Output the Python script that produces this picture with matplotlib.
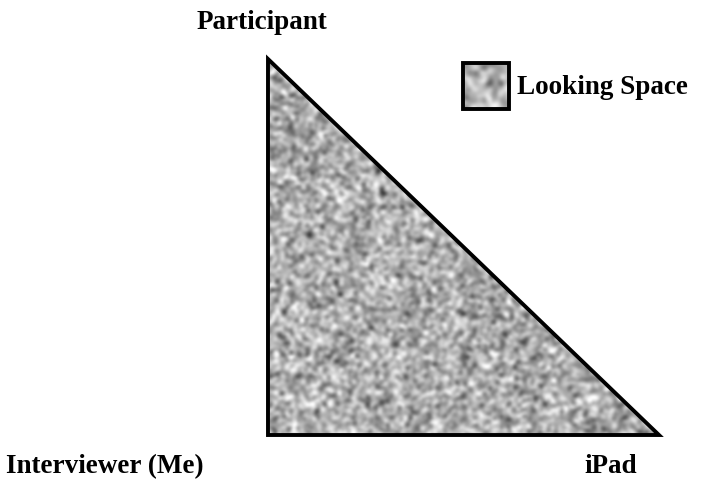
# plot.py
"""
Looking-space diagram: participant, interviewer and iPad at the corners of a
right triangle, the area between them filled with a granite texture.
"""

import numpy as np
import matplotlib.pyplot as plt
from matplotlib.patches import Polygon, Rectangle

# corners of the triangle in diagram units (x to the right, y upwards)
corner_names = ["Participant", "Interviewer (Me)", "iPad"]
corner_x = [0.0, 0.0, 1.0]
corner_y = [1.0, 0.0, 0.0]
legend_label = "Looking Space"

plt.rcParams['font.family'] = ['Liberation Serif', 'DejaVu Serif']

fig = plt.figure(figsize=(7.07, 4.85), dpi=100)
ax = fig.add_axes([0, 0, 1, 1])
ax.set_xlim(-0.6854, 1.1228)
ax.set_ylim(-0.1303, 1.1596)
ax.axis('off')

# granite-like texture (fill style only)
rng = np.random.default_rng(7)


def granite(shape):
    tex = rng.normal(0.0, 1.0, shape)
    # light smoothing to get blobby speckles
    k = np.array([1, 2, 1], float) / 4
    tex = np.apply_along_axis(lambda r: np.convolve(r, k, mode='same'), 0, tex)
    tex = np.apply_along_axis(lambda r: np.convolve(r, k, mode='same'), 1, tex)
    return tex


tri = Polygon(list(zip(corner_x, corner_y)), closed=True, facecolor='none',
              edgecolor='black', linewidth=2.8, joinstyle='miter', zorder=3)
ax.add_patch(tri)

img = ax.imshow(granite((170, 175)), cmap='gray', vmin=-2.0, vmax=0.95,
                extent=(0, 1, 0, 1), interpolation='bicubic', aspect='auto',
                zorder=1)
img.set_clip_path(tri)

# legend swatch
box = Rectangle((0.499, 0.866), 0.117, 0.123, facecolor='none',
                edgecolor='black', linewidth=2.8, zorder=3)
ax.add_patch(box)
sw = ax.imshow(granite((16, 16)), cmap='gray', vmin=-2.0, vmax=0.95,
               extent=(0.499, 0.616, 0.866, 0.989), interpolation='bicubic',
               aspect='auto', zorder=1)
sw.set_clip_path(box)

text_kw = dict(fontsize=19.5, fontweight='bold', color='black')
ax.text(corner_x[0] - 0.015, corner_y[0] + 0.101, corner_names[0],
        ha='center', va='center', **text_kw)
ax.text(corner_x[1] - 0.417, corner_y[1] - 0.082, corner_names[1],
        ha='center', va='center', **text_kw)
ax.text(corner_x[2] - 0.123, corner_y[2] - 0.082, corner_names[2],
        ha='center', va='center', **text_kw)
ax.text(0.637, 0.928, legend_label, ha='left', va='center', **text_kw)

fig.savefig("out.png", dpi=100)
